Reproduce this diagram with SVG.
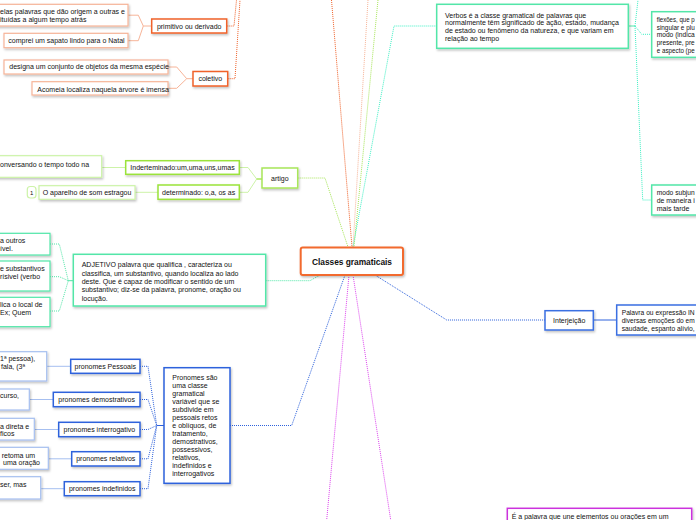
<svg xmlns="http://www.w3.org/2000/svg" width="696" height="520" viewBox="0 0 696 520">
<defs>
<filter id="sh" x="-10%" y="-10%" width="130%" height="140%"><feDropShadow dx="1" dy="1.5" stdDeviation="0.8" flood-color="#000" flood-opacity="0.25"/></filter>
</defs>
<style>
.t{font-family:"Liberation Sans",Arial,sans-serif;font-size:7px;fill:#111}
.m{text-anchor:middle}
.b{fill:#fff;filter:url(#sh)}
.ln{fill:none;stroke-width:1}
.d{stroke-dasharray:1 1}
.or{stroke:#f0622a}.sa{stroke:#f7b498}
.gr{stroke:#9be33a}.lg{stroke:#cdf3a8}.ag{stroke:#a8e65a}
.mi{stroke:#52e6a8}.cy{stroke:#3ef0c4}
.bl{stroke:#2e62dc}.lb{stroke:#a6bff0}
.mg{stroke:#dd44ee}
</style>
<g id="connectors">
<polyline class="ln d or" points="331.5,0 352,247"/>
<polyline class="ln d sa" points="368,0 353,247"/>
<polyline class="ln d ag" points="378,0 354,247"/>
<polyline class="ln d cy" points="436.7,26 394,26 353,247"/>
<polyline class="ln d ag" points="297.7,178 325,178 348,247"/>
<polyline class="ln d mi" points="265.7,280.7 310,280.7 320,275"/>
<polyline class="ln d bl" points="375,275 446.7,320 545,320"/>
<polyline class="ln bl" points="593.3,320 616.7,320"/>
<polyline class="ln d bl" points="230,425.5 291.7,425.5 345,275"/>
<polyline class="ln d mg" points="349,275 326.7,520"/>
<polyline class="ln d mg" points="353,275 390.7,520"/>
<polyline class="ln d or" points="226.7,26 234,26 236.5,0"/>
<polyline class="ln d or" points="227.7,78.7 235,78.7 240,0"/>
<polyline class="ln sa" points="128,15.2 138.3,15.2 143.3,26 151.7,26"/>
<polyline class="ln sa" points="128,40.7 138.3,40.7 143.3,26"/>
<polyline class="ln sa" points="168,67 176.7,67 186.7,78.7 193,78.7"/>
<polyline class="ln sa" points="168,88.3 176.7,88.3 186.7,78.7"/>
<polyline class="ln lg" points="101.7,167.5 125.7,167.5"/>
<polyline class="ln lg" points="135,192.3 158,192.3"/>
<polyline class="ln lg" points="239.3,167.5 248,167.5 256.7,179 262,179"/>
<polyline class="ln lg" points="239.3,192.3 248,192.3 256.7,179"/>
<polyline class="ln gr" points="256.7,179 262,179"/>
<polyline class="ln d mi" points="50,244 59.3,244 68.3,280.7"/>
<polyline class="ln d mi" points="50,276.7 59.3,276.7 68.3,280.7"/>
<polyline class="ln d mi" points="50,311 59.3,311 68.3,280.7"/>
<polyline class="ln mi" points="68.3,280.7 73.3,280.7"/>
<polyline class="ln mi" points="628.3,26 635,26"/>
<polyline class="ln d cy" points="635,26 638,0"/>
<polyline class="ln d cy" points="635,26 641.7,34.3 651.7,34.3"/>
<polyline class="ln d cy" points="635,26 642.7,200 651.7,200"/>
<polyline class="ln d bl" points="140,366.3 148,366.3 156.7,425.5"/>
<polyline class="ln d bl" points="140,399.5 148,399.5 156.7,425.5"/>
<polyline class="ln d bl" points="140,429.5 148,429.5 156.7,425.5"/>
<polyline class="ln d bl" points="140,458.8 148,458.8 156.7,425.5"/>
<polyline class="ln d bl" points="140,488.7 148,488.7 156.7,425.5"/>
<polyline class="ln bl" points="156.7,425.5 164,425.5"/>
<polyline class="ln lb" points="46.7,366.3 70.7,366.3"/>
<polyline class="ln lb" points="29.3,399.5 53.3,399.5"/>
<polyline class="ln lb" points="34.3,429.5 58.7,429.5"/>
<polyline class="ln lb" points="48.3,458.8 71.7,458.8"/>
<polyline class="ln lb" points="40.7,488.7 64.3,488.7"/>
</g>
<g id="central">
<rect class="b" x="300.7" y="247.5" width="102.3" height="27.5" rx="2" stroke="#f26a2e" stroke-width="2"/>
<text class="t m" x="352" y="265" style="font-size:8.4px;font-weight:bold" textLength="80">Classes gramaticais</text>
</g>
<g id="primitivo">
<rect class="b" x="151.7" y="19" width="75" height="14" stroke="#f0622a" stroke-width="1.5"/>
<text class="t m" x="189.2" y="28.5">primitivo ou derivado</text>
</g>
<g id="coletivo">
<rect class="b" x="193" y="71.5" width="34.7" height="14.5" stroke="#f0622a" stroke-width="1.5"/>
<text class="t m" x="210.3" y="81.3">coletivo</text>
</g>
<g id="prim-leaf1">
<rect class="b" x="-5" y="4.3" width="133" height="21.7" stroke="#f7b498" stroke-width="1.2"/>
<text class="t" x="0" y="14">elas palavras que dão origem a outras e</text>
<text class="t" x="0" y="21.8">ituídas a algum tempo atrás</text>
</g>
<g id="prim-leaf2">
<rect class="b" x="4" y="33.3" width="124" height="14.4" stroke="#f7b498" stroke-width="1.2"/>
<text class="t" x="8.3" y="43.3">comprei um sapato lindo para o Natal</text>
</g>
<g id="col-leaf1">
<rect class="b" x="4" y="60" width="164" height="14" stroke="#f7b498" stroke-width="1.2"/>
<text class="t" x="9.3" y="69.3">designa um conjunto de objetos da mesma espécie</text>
</g>
<g id="col-leaf2">
<rect class="b" x="32" y="81.7" width="136" height="13.3" stroke="#f7b498" stroke-width="1.2"/>
<text class="t" x="37.3" y="91.5">Acomeia localiza naquela árvore é imensa</text>
</g>
<g id="artigo">
<rect class="b" x="262" y="168" width="35.7" height="20" stroke="#a8e65a" stroke-width="1.5"/>
<text class="t m" x="279.8" y="180.5">artigo</text>
</g>
<g id="indeterminado">
<rect class="b" x="125.7" y="160.7" width="113.6" height="13.6" stroke="#9be33a" stroke-width="1.5"/>
<text class="t m" x="182.5" y="170">Inderteminado:um,uma,uns,umas</text>
</g>
<g id="determinado">
<rect class="b" x="158" y="185" width="81.3" height="14.3" stroke="#9be33a" stroke-width="1.5"/>
<text class="t m" x="198.6" y="194.6">determinado: o,a, os as</text>
</g>
<g id="art-leaf1">
<rect class="b" x="-5" y="155.7" width="106.7" height="21.6" stroke="#cdf3a8" stroke-width="1.2"/>
<text class="t" x="0" y="166.8">onversando o tempo todo na</text>
</g>
<g id="art-leaf2">
<rect x="27.3" y="186.5" width="8.7" height="11.5" rx="3" fill="#fff" stroke="#cdf3a8" stroke-width="1.2"/>
<text class="t m" x="31.7" y="194.6" style="font-size:6px">1</text>
<rect class="b" x="39" y="185.7" width="96" height="13.6" stroke="#cdf3a8" stroke-width="1.2"/>
<text class="t" x="42.7" y="194.8">O aparelho de som estragou</text>
</g>
<g id="adjetivo">
<rect class="b" x="73.3" y="254.3" width="192.4" height="51.7" stroke="#52e6a8" stroke-width="1.5"/>
<text class="t" x="81.7" y="267.3">ADJETIVO  palavra que qualifica , caracteriza ou</text>
<text class="t" x="81.7" y="275.6">classifica, um  substantivo, quando localiza ao lado</text>
<text class="t" x="81.7" y="283.9">deste. Que é capaz de modificar o  sentido de um</text>
<text class="t" x="81.7" y="292.2">substantivo; diz-se da palavra, pronome, oração ou</text>
<text class="t" x="81.7" y="300.5">locução.</text>
</g>
<g id="adj-leaf1">
<rect class="b" x="-5" y="233.3" width="55" height="21.7" stroke="#52e6a8" stroke-width="1.2"/>
<text class="t" x="0" y="243.2">a outros</text>
<text class="t" x="0" y="251.2">ível.</text>
</g>
<g id="adj-leaf2">
<rect class="b" x="-5" y="261" width="55" height="30" stroke="#52e6a8" stroke-width="1.2"/>
<text class="t" x="0" y="271.2">e substantivos</text>
<text class="t" x="0" y="279.2">rísivel (verbo</text>
</g>
<g id="adj-leaf3">
<rect class="b" x="-5" y="297.3" width="55" height="29.4" stroke="#52e6a8" stroke-width="1.2"/>
<text class="t" x="0" y="307.2">lica o local de</text>
<text class="t" x="0" y="315.2">Ex; Quem</text>
</g>
<g id="verbos">
<rect class="b" x="436.7" y="4.3" width="191.6" height="44" stroke="#52e6a8" stroke-width="1.5"/>
<text class="t" x="445" y="17.5">Verbos  é a classe gramatical de palavras que</text>
<text class="t" x="445" y="25.3">normalmente têm significado de ação, estado, mudança</text>
<text class="t" x="445" y="33.1">de estado ou fenômeno  da natureza, e que variam em</text>
<text class="t" x="445" y="40.9">relação ao tempo</text>
</g>
<g id="flexoes">
<rect class="b" x="651.7" y="11.7" width="60" height="45.6" stroke="#52e6a8" stroke-width="1.5"/>
<text class="t" x="656.7" y="21.8" textLength="38" lengthAdjust="spacingAndGlyphs">flexões, que p</text>
<text class="t" x="656.7" y="29.5" textLength="38" lengthAdjust="spacingAndGlyphs">singular e plu</text>
<text class="t" x="656.7" y="37.2" textLength="38" lengthAdjust="spacingAndGlyphs">modo (indica</text>
<text class="t" x="656.7" y="44.9" textLength="38" lengthAdjust="spacingAndGlyphs">presente, pre</text>
<text class="t" x="656.7" y="52.6" textLength="38" lengthAdjust="spacingAndGlyphs">e aspecto (pe</text>
</g>
<g id="subjuntivo">
<rect class="b" x="651.7" y="185" width="60" height="30" stroke="#52e6a8" stroke-width="1.5"/>
<text class="t" x="656.7" y="195.2" textLength="38" lengthAdjust="spacingAndGlyphs">modo subjun</text>
<text class="t" x="656.7" y="203.2" textLength="38" lengthAdjust="spacingAndGlyphs">de maneira i</text>
<text class="t" x="656.7" y="211.2">mais tarde</text>
</g>
<g id="interjeicao">
<rect class="b" x="545" y="310.7" width="48.3" height="19.3" stroke="#3a6fe2" stroke-width="1.5"/>
<text class="t m" x="569.2" y="322.8">Interjeição</text>
</g>
<g id="interj-leaf">
<rect class="b" x="616.7" y="305" width="90" height="30" stroke="#3a6fe2" stroke-width="1.5"/>
<text class="t" x="621.7" y="315.2" textLength="73" lengthAdjust="spacingAndGlyphs">Palavra ou expressão IN</text>
<text class="t" x="621.7" y="322.8" textLength="73" lengthAdjust="spacingAndGlyphs">diversas emoções do em</text>
<text class="t" x="621.7" y="330.5" textLength="73" lengthAdjust="spacingAndGlyphs">saudade, espanto alívio,</text>
</g>
<g id="pronomes">
<rect class="b" x="164" y="367.7" width="66" height="115.6" stroke="#2e62dc" stroke-width="1.5"/>
<text class="t" x="172.3" y="379.8">Pronomes são</text>
<text class="t" x="172.3" y="387.8">uma classe</text>
<text class="t" x="172.3" y="395.8">gramatical</text>
<text class="t" x="172.3" y="403.8">variável que se</text>
<text class="t" x="172.3" y="411.8">subdivide em</text>
<text class="t" x="172.3" y="419.8">pessoais retos</text>
<text class="t" x="172.3" y="427.8">e oblíquos, de</text>
<text class="t" x="172.3" y="435.8">tratamento,</text>
<text class="t" x="172.3" y="443.8">demostrativos,</text>
<text class="t" x="172.3" y="451.8">possessivos,</text>
<text class="t" x="172.3" y="459.8">relativos,</text>
<text class="t" x="172.3" y="467.8">indefinidos e</text>
<text class="t" x="172.3" y="475.8">interrogativos</text>
</g>
<g id="pessoais">
<rect class="b" x="70.7" y="359.3" width="69.3" height="14" stroke="#2e62dc" stroke-width="1.5"/>
<text class="t m" x="105.3" y="368.8">pronomes Pessoais</text>
</g>
<g id="demostrativos">
<rect class="b" x="53.3" y="392.3" width="86.7" height="14.4" stroke="#2e62dc" stroke-width="1.5"/>
<text class="t m" x="96.7" y="402">pronomes demostrativos</text>
</g>
<g id="interrogativo">
<rect class="b" x="58.7" y="422.3" width="81.3" height="14.4" stroke="#2e62dc" stroke-width="1.5"/>
<text class="t m" x="99.3" y="432">pronomes interrogativo</text>
</g>
<g id="relativos">
<rect class="b" x="71.7" y="451.7" width="68.3" height="14.3" stroke="#2e62dc" stroke-width="1.5"/>
<text class="t m" x="105.8" y="461.3">pronomes relativos</text>
</g>
<g id="indefinidos">
<rect class="b" x="64.3" y="481.7" width="75.7" height="14" stroke="#2e62dc" stroke-width="1.5"/>
<text class="t m" x="102.2" y="491.2">pronomes indefinidos</text>
</g>
<g id="pron-leaf1">
<rect class="b" x="-5" y="351.7" width="51.7" height="29.3" stroke="#a6bff0" stroke-width="1.2"/>
<text class="t" x="0" y="360.8">1ª pessoa),</text>
<text class="t" x="1" y="368.5">fala, (3ª</text>
</g>
<g id="pron-leaf2">
<rect class="b" x="-5" y="389" width="34.3" height="21" stroke="#a6bff0" stroke-width="1.2"/>
<text class="t" x="0" y="398.2">curso,</text>
</g>
<g id="pron-leaf3">
<rect class="b" x="-5" y="418.3" width="39.3" height="21.7" stroke="#a6bff0" stroke-width="1.2"/>
<text class="t" x="0" y="428.5">a direta e</text>
<text class="t" x="0" y="435.8">ficos</text>
</g>
<g id="pron-leaf4">
<rect class="b" x="-5" y="447.3" width="53.3" height="22" stroke="#a6bff0" stroke-width="1.2"/>
<text class="t" x="1.7" y="457.5">retoma um</text>
<text class="t" x="3" y="465.2">uma oração</text>
</g>
<g id="pron-leaf5">
<rect class="b" x="-5" y="476.7" width="45.7" height="22.3" stroke="#a6bff0" stroke-width="1.2"/>
<text class="t" x="0" y="486.8">ser, mas</text>
</g>
<g id="conjuncao">
<rect class="b" x="507.3" y="508.3" width="184.4" height="20" stroke="#cc33dd" stroke-width="1.5"/>
<text class="t" x="511.7" y="519.2">É a palavra que une elementos ou orações em um</text>
</g>
</svg>
